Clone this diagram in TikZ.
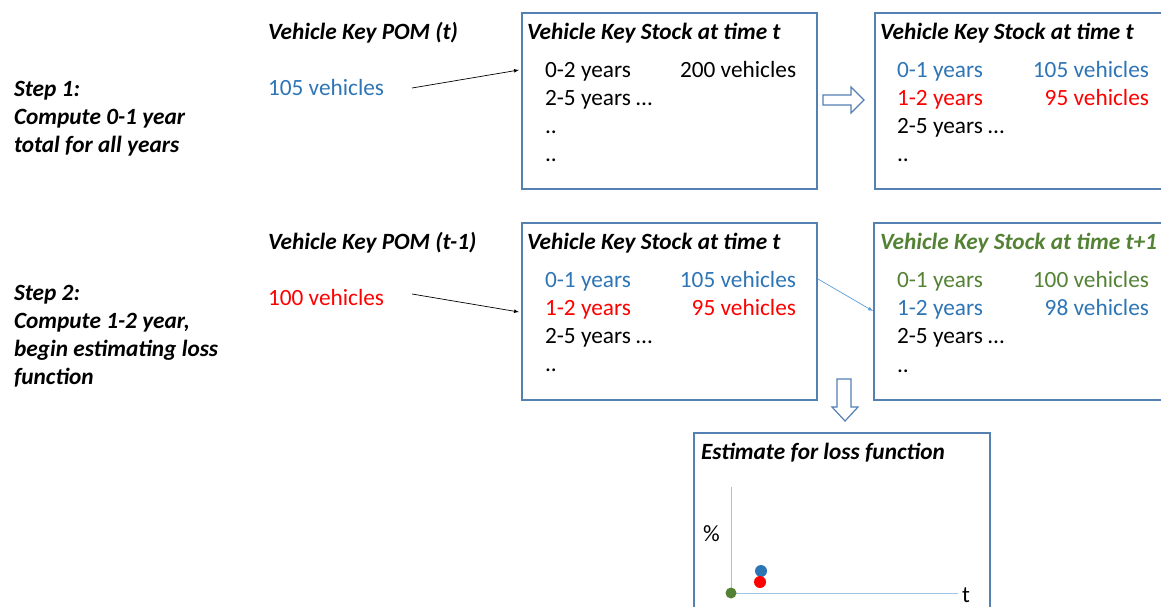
\documentclass[tikz,border=0pt]{standalone}
\usepackage{fontspec}
\setmainfont{Carlito}
\definecolor{oblue}{RGB}{46,117,182}
\definecolor{ored}{RGB}{255,0,0}
\definecolor{ogreen}{RGB}{84,130,53}
\definecolor{frame}{RGB}{84,128,178}
\definecolor{lblue}{RGB}{157,195,230}
\definecolor{mblue}{RGB}{91,155,213}
\begin{document}
\begin{tikzpicture}[x=1pt,y=-1pt,
  every node/.style={inner sep=0pt,outer sep=0pt,font=\fontsize{23.3}{28}\selectfont},
  txt/.style={anchor=base west},
  rtxt/.style={anchor=base east},
  ttl/.style={anchor=base west,font=\fontsize{23.3}{28}\selectfont\bfseries\itshape},
  stepl/.style={anchor=base west,align=left,font=\fontsize{23.3}{28}\selectfont\bfseries\itshape},
  frm/.style={draw=frame,line width=1.3pt},
  blk/.style={draw=frame,line width=1.2pt,fill=white,line join=miter},
  thin/.style={-latex,line width=0.7pt}]
\useasboundingbox (0,0) rectangle (1161,606);
\clip (0,0) rectangle (1161,606);

% boxes
\draw[frm] (522,13) rectangle (817,189);
\draw[frm] (875,13) rectangle (1170,189);
\draw[frm] (522,223) rectangle (817,400);
\draw[frm] (874,223) rectangle (1170,400);
\draw[frm] (694,433) rectangle (990,640);

% left column (base anchor = last line baseline)
\node[stepl] (s1) at (14,152) {Step 1:\\Compute 0-1 year\\total for all years};
\node[stepl] (s2) at (14,384) {Step 2:\\Compute 1-2 year,\\begin estimating loss\\function};

\node[ttl] (pomt) at (268,39) {Vehicle Key POM (t)};
\node[txt,text=oblue] (v105) at (268,95) {105 vehicles};
\node[ttl] (pomt1) at (268,249) {Vehicle Key POM (t-1)};
\node[txt,text=ored] (v100) at (268,305) {100 vehicles};

% box A
\node[ttl] (tA) at (527,39) {Vehicle Key Stock at time t};
\node[txt] (a1) at (545,77) {0-2 years};
\node[txt] (a1v) at (680,77) {200 vehicles};
\node[txt] (a2) at (545,105) {2-5 years \dots};
\node[txt] (a3) at (545,133) {..};
\node[txt] (a4) at (545,161) {..};

% box B
\node[ttl] (tB) at (880,39) {Vehicle Key Stock at time t};
\node[txt,text=oblue] (b1) at (897,77) {0-1 years};
\node[rtxt,text=oblue] (b1v) at (1149,77) {105 vehicles};
\node[txt,text=ored] (b2) at (897,105) {1-2 years};
\node[rtxt,text=ored] (b2v) at (1149,105) {95 vehicles};
\node[txt] (b3) at (897,133) {2-5 years \dots};
\node[txt] (b4) at (897,161) {..};

% box C
\node[ttl] (tC) at (527,249) {Vehicle Key Stock at time t};
\node[txt,text=oblue] (c1) at (545,287) {0-1 years};
\node[rtxt,text=oblue] (c1v) at (796,287) {105 vehicles};
\node[txt,text=ored] (c2) at (545,315) {1-2 years};
\node[rtxt,text=ored] (c2v) at (796,315) {95 vehicles};
\node[txt] (c3) at (545,343) {2-5 years \dots};
\node[txt] (c4) at (545,371) {..};

% box D
\node[ttl,text=ogreen] (tD) at (880,249) {Vehicle Key Stock at time t+1};
\node[txt,text=ogreen] (d1) at (897,287) {0-1 years};
\node[rtxt,text=ogreen] (d1v) at (1149,287) {100 vehicles};
\node[txt,text=oblue] (d2) at (897,315) {1-2 years};
\node[rtxt,text=oblue] (d2v) at (1149,315) {98 vehicles};
\node[txt] (d3) at (897,343) {2-5 years \dots};
\node[txt] (d4) at (897,372) {..};

% box E
\node[ttl] (tE) at (701,459) {Estimate for loss function};
\coordinate (org) at (731,593);
\coordinate (ytop) at (731,487);
\coordinate (xend) at (958,593);
\draw[lblue,line width=1pt] (ytop) -- (org) -- (xend);
\node[txt] (pct) at (703,541) {\%};
\node[txt] (tlab) at (962,602) {t};
\fill[ogreen] (org) circle (5.5);
\fill[oblue] (761,571) circle (6);
\fill[ored] (760,582) circle (6);

% connectors
\coordinate (e1s) at (412,88);
\coordinate (e1t) at (519,70);
\draw[thin] (e1s) -- (e1t);
\coordinate (e2s) at (412,294);
\coordinate (e2t) at (519,312);
\draw[thin] (e2s) -- (e2t);
\coordinate (e3s) at (818,279);
\coordinate (e3t) at (873,311);
\draw[-latex,mblue,line width=0.7pt] (e3s) -- (e3t);

% block arrows
\draw[blk] (823,95) -- (851,95) -- (851,87) -- (864,100) -- (851,113) -- (851,105) -- (823,105) -- cycle;
\draw[blk] (837,379) -- (851,379) -- (851,407) -- (858,407) -- (845,421) -- (832,407) -- (837,407) -- cycle;
\end{tikzpicture}
\end{document}
